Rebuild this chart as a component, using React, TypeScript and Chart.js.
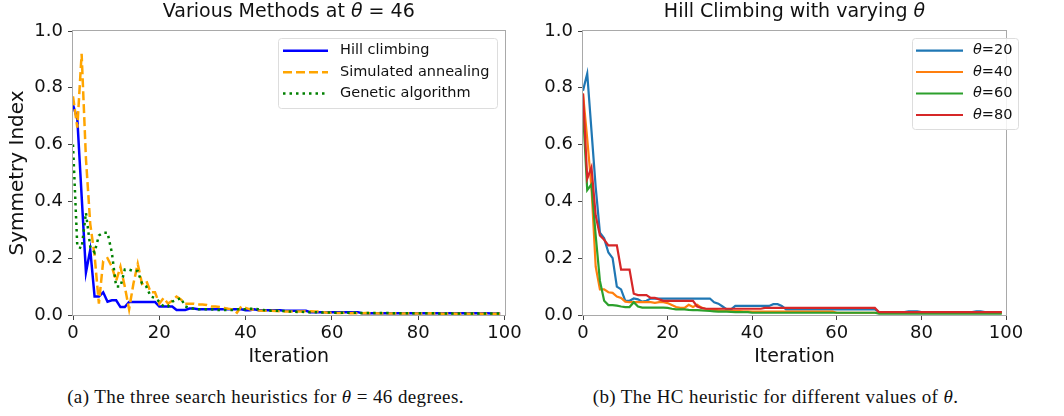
import React, { useEffect, useRef } from "react";
import { Chart, registerables } from "chart.js";

Chart.register(...registerables);

// ---------------- data ----------------
const ITERATIONS: number[] = Array.from({ length: 100 }, (_, i) => i);
const X_TICK_STEP = 20;
const Y_TICK_STEP = 0.2;

const HILL_CLIMBING = [
  0.74, 0.69, 0.42, 0.15, 0.23, 0.065, 0.065, 0.08, 0.047, 0.052,
  0.052, 0.028, 0.028, 0.046, 0.046, 0.046, 0.046, 0.046, 0.046, 0.046,
  0.030, 0.030, 0.030, 0.030, 0.018, 0.018, 0.018, 0.023, 0.023, 0.020,
  0.020, 0.020, 0.020, 0.020, 0.020, 0.020, 0.020, 0.020, 0.020, 0.020,
  0.017, 0.017, 0.020, 0.017, 0.017, 0.017, 0.017, 0.017, 0.017, 0.015,
  0.015, 0.015, 0.015, 0.015, 0.015, 0.010, 0.010, 0.010, 0.010, 0.010,
  0.010, 0.010, 0.010, 0.010, 0.010, 0.010, 0.010, 0.006, 0.006, 0.006,
  0.006, 0.006, 0.006, 0.006, 0.006, 0.006, 0.006, 0.006, 0.006, 0.006,
  0.006, 0.006, 0.006, 0.006, 0.006, 0.006, 0.006, 0.006, 0.006, 0.006,
  0.006, 0.006, 0.006, 0.006, 0.006, 0.006, 0.006, 0.005, 0.005, 0.005,
];

const SIMULATED_ANNEALING = [
  0.77, 0.66, 0.92, 0.55, 0.32, 0.21, 0.04, 0.19, 0.20, 0.17,
  0.12, 0.17, 0.10, 0.02, 0.11, 0.18, 0.11, 0.12, 0.08, 0.08,
  0.04, 0.06, 0.04, 0.05, 0.065, 0.055, 0.04, 0.04, 0.04, 0.037,
  0.037, 0.035, 0.03, 0.03, 0.028, 0.025, 0.022, 0.02, 0.008, 0.03,
  0.025, 0.02, 0.018, 0.016, 0.015, 0.015, 0.015, 0.014, 0.013, 0.012,
  0.012, 0.012, 0.012, 0.012, 0.013, 0.013, 0.012, 0.012, 0.010, 0.008,
  0.008, 0.007, 0.007, 0.008, 0.006, 0.007, 0.006, 0.006, 0.007, 0.006,
  0.006, 0.005, 0.006, 0.005, 0.005, 0.006, 0.005, 0.005, 0.006, 0.005,
  0.005, 0.005, 0.005, 0.006, 0.005, 0.005, 0.004, 0.005, 0.005, 0.004,
  0.004, 0.005, 0.004, 0.004, 0.005, 0.004, 0.004, 0.004, 0.004, 0.004,
];

const GENETIC_ALGORITHM = [
  0.60, 0.24, 0.235, 0.36, 0.24, 0.22, 0.28, 0.29, 0.29, 0.22,
  0.10, 0.10, 0.16, 0.16, 0.155, 0.155, 0.11, 0.10, 0.065, 0.06,
  0.047, 0.03, 0.03, 0.047, 0.053, 0.06, 0.03, 0.025, 0.022, 0.02,
  0.02, 0.02, 0.02, 0.018, 0.018, 0.018, 0.018, 0.018, 0.02, 0.02,
  0.02, 0.022, 0.022, 0.02, 0.018, 0.016, 0.015, 0.015, 0.015, 0.014,
  0.012, 0.012, 0.011, 0.011, 0.010, 0.010, 0.010, 0.009, 0.009, 0.009,
  0.008, 0.008, 0.008, 0.008, 0.008, 0.008, 0.008, 0.007, 0.007, 0.007,
  0.007, 0.007, 0.007, 0.007, 0.006, 0.006, 0.006, 0.006, 0.006, 0.006,
  0.006, 0.006, 0.006, 0.006, 0.006, 0.005, 0.005, 0.005, 0.005, 0.005,
  0.005, 0.005, 0.005, 0.005, 0.005, 0.005, 0.005, 0.005, 0.005, 0.005,
];

const THETA_20 = [
  0.79, 0.85, 0.65, 0.45, 0.29, 0.27, 0.22, 0.20, 0.10, 0.09,
  0.05, 0.05, 0.058, 0.055, 0.047, 0.05, 0.058, 0.058, 0.058, 0.058,
  0.058, 0.058, 0.058, 0.058, 0.058, 0.058, 0.058, 0.058, 0.058, 0.058,
  0.058, 0.045, 0.04, 0.03, 0.02, 0.02, 0.032, 0.032, 0.032, 0.032,
  0.032, 0.032, 0.032, 0.032, 0.032, 0.038, 0.038, 0.032, 0.02, 0.02,
  0.02, 0.02, 0.02, 0.02, 0.02, 0.02, 0.02, 0.02, 0.02, 0.02,
  0.02, 0.02, 0.02, 0.02, 0.02, 0.02, 0.02, 0.02, 0.02, 0.02,
  0.01, 0.01, 0.01, 0.01, 0.01, 0.01, 0.01, 0.013, 0.013, 0.013,
  0.01, 0.01, 0.01, 0.01, 0.01, 0.01, 0.01, 0.01, 0.01, 0.01,
  0.01, 0.01, 0.01, 0.013, 0.013, 0.01, 0.01, 0.01, 0.01, 0.01,
];

const THETA_40 = [
  0.78, 0.62, 0.45, 0.17, 0.09, 0.09, 0.08, 0.078, 0.065, 0.06,
  0.047, 0.045, 0.045, 0.045, 0.045, 0.045, 0.045, 0.043, 0.045, 0.045,
  0.042, 0.035, 0.028, 0.025, 0.025, 0.036, 0.028, 0.036, 0.026, 0.022,
  0.02, 0.018, 0.016, 0.015, 0.015, 0.014, 0.014, 0.014, 0.013, 0.013,
  0.012, 0.012, 0.012, 0.012, 0.012, 0.012, 0.012, 0.012, 0.012, 0.012,
  0.012, 0.012, 0.012, 0.012, 0.012, 0.012, 0.012, 0.012, 0.012, 0.012,
  0.008, 0.008, 0.008, 0.008, 0.008, 0.008, 0.008, 0.008, 0.008, 0.008,
  0.008, 0.008, 0.008, 0.008, 0.008, 0.008, 0.008, 0.008, 0.008, 0.008,
  0.008, 0.008, 0.008, 0.008, 0.008, 0.008, 0.008, 0.008, 0.008, 0.008,
  0.008, 0.008, 0.008, 0.008, 0.008, 0.008, 0.008, 0.008, 0.008, 0.008,
];

const THETA_60 = [
  0.72, 0.44, 0.46, 0.28, 0.12, 0.05, 0.035, 0.035, 0.033, 0.03,
  0.028, 0.028, 0.045, 0.03, 0.026, 0.026, 0.026, 0.026, 0.026, 0.026,
  0.025, 0.022, 0.02, 0.02, 0.02, 0.018, 0.017, 0.017, 0.016, 0.015,
  0.014, 0.013, 0.012, 0.012, 0.012, 0.011, 0.01, 0.01, 0.01, 0.01,
  0.008, 0.008, 0.008, 0.008, 0.008, 0.008, 0.008, 0.008, 0.008, 0.008,
  0.008, 0.008, 0.008, 0.008, 0.008, 0.008, 0.008, 0.008, 0.008, 0.008,
  0.008, 0.008, 0.008, 0.008, 0.008, 0.008, 0.008, 0.008, 0.008, 0.008,
  0.005, 0.005, 0.005, 0.005, 0.005, 0.005, 0.005, 0.005, 0.005, 0.005,
  0.005, 0.005, 0.005, 0.005, 0.005, 0.005, 0.005, 0.005, 0.005, 0.005,
  0.005, 0.005, 0.005, 0.005, 0.005, 0.005, 0.005, 0.005, 0.005, 0.005,
];

const THETA_80 = [
  0.78, 0.48, 0.52, 0.35, 0.28, 0.265, 0.245, 0.245, 0.245, 0.16,
  0.16, 0.16, 0.075, 0.07, 0.07, 0.07, 0.06, 0.06, 0.055, 0.05,
  0.05, 0.05, 0.05, 0.05, 0.05, 0.05, 0.05, 0.03, 0.025, 0.022,
  0.022, 0.022, 0.022, 0.022, 0.022, 0.022, 0.022, 0.022, 0.022, 0.022,
  0.022, 0.022, 0.022, 0.025, 0.025, 0.025, 0.025, 0.025, 0.025, 0.025,
  0.025, 0.025, 0.025, 0.025, 0.025, 0.025, 0.025, 0.025, 0.025, 0.025,
  0.025, 0.025, 0.025, 0.025, 0.025, 0.025, 0.025, 0.025, 0.025, 0.025,
  0.01, 0.01, 0.01, 0.01, 0.01, 0.01, 0.01, 0.01, 0.01, 0.01,
  0.01, 0.01, 0.01, 0.01, 0.01, 0.01, 0.01, 0.01, 0.01, 0.01,
  0.01, 0.01, 0.01, 0.01, 0.01, 0.01, 0.01, 0.01, 0.01, 0.01,
];

const LEFT_LABELS = ["Hill climbing", "Simulated annealing", "Genetic algorithm"];
const RIGHT_THETAS = ["20", "40", "60", "80"];

// ---------------- styling ----------------
const FONT = "DejaVu Sans";
const FRAME = "#a9a9a9";
const TICK_MARK = "#444444";
const TEXT = "#111111";

type Seg = { t: string; italic?: boolean };
type LegendEntry = { segs: Seg[]; color: string; width: number; dash: number[] };
type Overlay = {
  title: Seg[];
  titleSize: number;
  legendBox: { x: number; y: number; w: number; h: number };
  legendRows: number[];
  lineX: [number, number];
  textX: number;
  legendSize: number;
  entries: LegendEntry[];
};

function drawSegs(ctx: CanvasRenderingContext2D, segs: Seg[], size: number, x: number, y: number, center: boolean) {
  const widths = segs.map((s) => {
    ctx.font = `${s.italic ? "italic " : ""}${size}px "${FONT}"`;
    return ctx.measureText(s.t).width;
  });
  const total = widths.reduce((a, b) => a + b, 0);
  let cx = center ? x - total / 2 : x;
  segs.forEach((s, i) => {
    ctx.font = `${s.italic ? "italic " : ""}${size}px "${FONT}"`;
    ctx.fillText(s.t, cx, y);
    cx += widths[i];
  });
}

function makeOverlay(o: Overlay) {
  return {
    id: "overlay",
    afterDraw(chart: any) {
      const { ctx, chartArea: a } = chart;
      ctx.save();
      // frame
      ctx.strokeStyle = FRAME;
      ctx.lineWidth = 1;
      ctx.setLineDash([]);
      ctx.strokeRect(Math.round(a.left) - 0.5, Math.round(a.top) - 0.5, Math.round(a.right - a.left) + 1, Math.round(a.bottom - a.top) + 1);
      // title
      ctx.fillStyle = TEXT;
      ctx.textBaseline = "middle";
      ctx.textAlign = "left";
      drawSegs(ctx, o.title, o.titleSize, (a.left + a.right) / 2, 12, true);
      // legend box
      const b = o.legendBox;
      const r = 3;
      ctx.beginPath();
      ctx.moveTo(b.x + r, b.y);
      ctx.arcTo(b.x + b.w, b.y, b.x + b.w, b.y + b.h, r);
      ctx.arcTo(b.x + b.w, b.y + b.h, b.x, b.y + b.h, r);
      ctx.arcTo(b.x, b.y + b.h, b.x, b.y, r);
      ctx.arcTo(b.x, b.y, b.x + b.w, b.y, r);
      ctx.closePath();
      ctx.fillStyle = "rgba(255,255,255,0.85)";
      ctx.fill();
      ctx.strokeStyle = "#dddddd";
      ctx.lineWidth = 1;
      ctx.stroke();
      o.entries.forEach((e, i) => {
        const y = o.legendRows[i];
        ctx.beginPath();
        ctx.strokeStyle = e.color;
        ctx.lineWidth = e.width;
        ctx.lineCap = "butt";
        ctx.setLineDash(e.dash);
        ctx.moveTo(o.lineX[0], y);
        ctx.lineTo(o.lineX[1], y);
        ctx.stroke();
        ctx.setLineDash([]);
        ctx.fillStyle = TEXT;
        drawSegs(ctx, e.segs, o.legendSize, o.textX, y, false);
      });
      ctx.restore();
    },
  };
}

function axisCommon() {
  return {
    grid: { drawOnChartArea: false, drawTicks: true, tickLength: 5, color: TICK_MARK, lineWidth: 1 },
    border: { display: false },
  };
}

function buildConfig(
  series: { data: number[]; color: string; width: number; dash: number[]; order: number }[],
  yWidth: number,
  rightPad: number,
  yTitle: string | null,
  overlay: Overlay
): any {
  return {
    type: "line",
    data: {
      labels: ITERATIONS,
      datasets: series.map((s) => ({
        data: s.data,
        borderColor: s.color,
        backgroundColor: s.color,
        borderWidth: s.width,
        borderDash: s.dash,
        pointRadius: 0,
        tension: 0,
        fill: false,
        order: s.order,
      })),
    },
    options: {
      responsive: false,
      animation: false,
      devicePixelRatio: 1,
      events: [],
      layout: { padding: { top: 31, left: 0, right: rightPad, bottom: 0 } },
      plugins: { legend: { display: false }, title: { display: false }, tooltip: { enabled: false } },
      scales: {
        x: {
          type: "linear",
          min: 0,
          max: 100,
          ticks: { stepSize: X_TICK_STEP, color: TEXT, font: { family: FONT, size: 18 }, padding: 3, maxRotation: 0, autoSkip: false },
          ...axisCommon(),
          title: { display: true, text: "Iteration", color: TEXT, font: { family: FONT, size: 19 }, padding: { top: 0, bottom: 3.6 } },
          afterFit: (s: any) => {
            s.height = 57;
          },
        },
        y: {
          type: "linear",
          min: 0,
          max: 1,
          ticks: {
            stepSize: Y_TICK_STEP,
            color: TEXT,
            font: { family: FONT, size: 18 },
            padding: 5,
            callback: (v: any) => Number(v).toFixed(1),
          },
          ...axisCommon(),
          title: yTitle
            ? { display: true, text: yTitle, color: TEXT, font: { family: FONT, size: 20 }, padding: { top: 5.5, bottom: 0 } }
            : { display: false },
          afterFit: (s: any) => {
            s.width = yWidth;
          },
        },
      },
    },
    plugins: [makeOverlay(overlay)],
  };
}

function ChartCanvas({ config, left, width, height }: { config: () => any; left: number; width: number; height: number }) {
  const ref = useRef<HTMLCanvasElement | null>(null);
  useEffect(() => {
    if (!ref.current) return;
    const chart = new Chart(ref.current, config());
    return () => chart.destroy();
  }, []);
  return (
    <canvas
      ref={ref}
      width={width}
      height={height}
      style={{ position: "absolute", left, top: 0, width, height, display: "block" }}
    />
  );
}

export default function App() {
  const leftConfig = () =>
    buildConfig(
      [
        { data: HILL_CLIMBING, color: "#0000ff", width: 2.5, dash: [], order: 2 },
        { data: SIMULATED_ANNEALING, color: "#ffa500", width: 2.5, dash: [9, 4], order: 1 },
        { data: GENETIC_ALGORITHM, color: "#008000", width: 2.5, dash: [2.5, 4], order: 0 },
      ],
      73,
      27.5,
      "Symmetry Index",
      {
        title: [{ t: "Various Methods at " }, { t: "θ", italic: true }, { t: " = 46" }],
        titleSize: 19,
        legendBox: { x: 278.5, y: 38.5, w: 219, h: 70 },
        legendRows: [50.7, 72.3, 93.5],
        lineX: [283, 328],
        textX: 340,
        legendSize: 14.5,
        entries: [
          { segs: [{ t: LEFT_LABELS[0] }], color: "#0000ff", width: 2.5, dash: [] },
          { segs: [{ t: LEFT_LABELS[1] }], color: "#ffa500", width: 2.5, dash: [9, 4] },
          { segs: [{ t: LEFT_LABELS[2] }], color: "#008000", width: 2.5, dash: [2.5, 4] },
        ],
      }
    );

  const rightColors = ["#1f77b4", "#ff7f0e", "#2ca02c", "#d62728"];
  const rightConfig = () =>
    buildConfig(
      [
        { data: THETA_20, color: rightColors[0], width: 2.2, dash: [], order: 3 },
        { data: THETA_40, color: rightColors[1], width: 2.2, dash: [], order: 2 },
        { data: THETA_60, color: rightColors[2], width: 2.2, dash: [], order: 1 },
        { data: THETA_80, color: rightColors[3], width: 2.2, dash: [], order: 0 },
      ],
      51,
      58,
      null,
      {
        title: [{ t: "Hill Climbing with varying " }, { t: "θ", italic: true }],
        titleSize: 19,
        legendBox: { x: 380.5, y: 38.5, w: 106, h: 91 },
        legendRows: [50.7, 72, 93.5, 115],
        lineX: [384, 431],
        textX: 441,
        legendSize: 14.5,
        entries: RIGHT_THETAS.map((t, i) => ({
          segs: [{ t: "θ", italic: true }, { t: "=" + t }],
          color: rightColors[i],
          width: 2.2,
          dash: [],
        })),
      }
    );

  const captionStyle: React.CSSProperties = {
    position: "absolute",
    top: 386,
    fontFamily: '"Liberation Serif", serif',
    fontSize: 19,
    letterSpacing: "0.4px",
    lineHeight: "22px",
    textAlign: "center",
    color: "#111",
    whiteSpace: "nowrap",
  };

  return (
    <div style={{ position: "absolute", left: 0, top: 0, width: 1064, height: 416, background: "#fff", overflow: "hidden" }}>
      <ChartCanvas config={leftConfig} left={0} width={532} height={372} />
      <ChartCanvas config={rightConfig} left={532} width={532} height={372} />
      <div style={{ ...captionStyle, left: 0, width: 531 }}>
        (a) The three search heuristics for <i>θ</i> = 46 degrees.
      </div>
      <div style={{ ...captionStyle, left: 532, width: 487 }}>
        (b) The HC heuristic for different values of <i>θ</i>.
      </div>
    </div>
  );
}
